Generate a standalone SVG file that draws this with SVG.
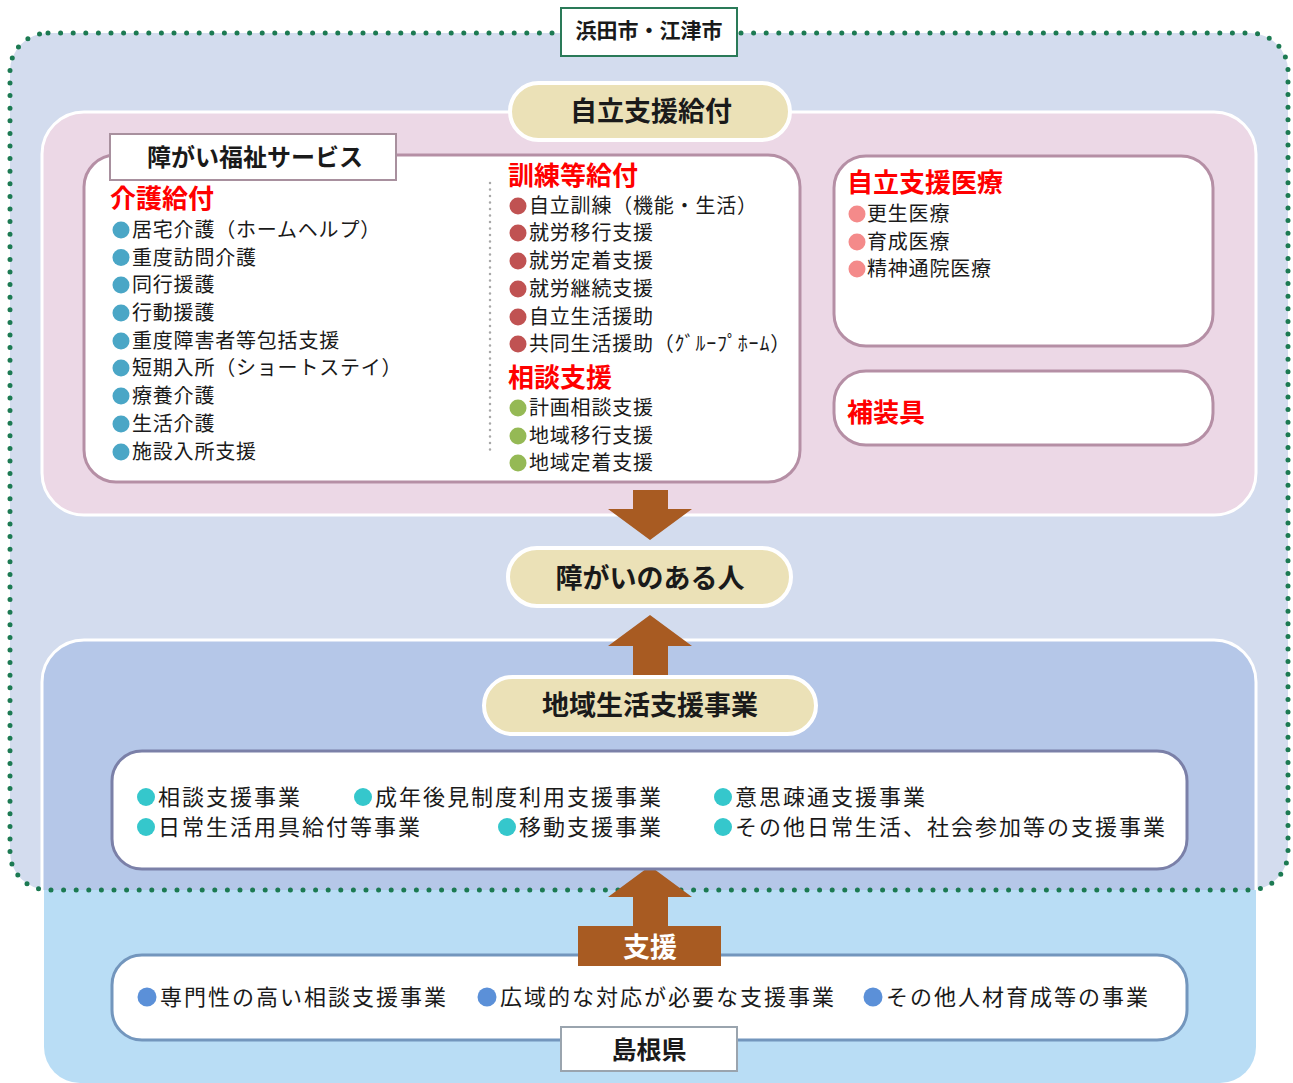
<svg xmlns="http://www.w3.org/2000/svg" width="1293" height="1083" viewBox="0 0 1293 1083">
<style>
text{font-family:"Noto Sans CJK JP","Noto Sans CJK SC",sans-serif;fill:#1a1a1a}
.h{font-weight:bold;font-size:27px;text-anchor:middle}
.red{font-weight:bold;font-size:26px;fill:#ff0000}
.it{font-size:20px;letter-spacing:0.8px}
.bt{font-size:22px;letter-spacing:2px}
.pill{fill:#ebe1b7;stroke:#ffffff;stroke-width:4}
.box{fill:#ffffff;stroke:#b58fa5;stroke-width:3}
.arrow{fill:#a85b22}
.b1{fill:#4aa6c6}.b2{fill:#c05252}.b3{fill:#95b955}.b4{fill:#f48a8a}.b5{fill:#35c7cc}.b6{fill:#5b90d8}
</style>
<rect width="1293" height="1083" fill="#ffffff"/>
<g id="regions">
<rect x="44" y="600" width="1212" height="483" rx="36" fill="#b9ddf5"/>
<path d="M48,33 H1250 A38,38 0 0 1 1288,71 V852 A38,38 0 0 1 1250,890 H48 A38,38 0 0 1 10,852 V71 A38,38 0 0 1 48,33 Z" fill="#d3dcee"/>
<path d="M42,890 V682 A42,42 0 0 1 84,640 H1214 A42,42 0 0 1 1256,682 V890" fill="#b5c7e8" stroke="#ffffff" stroke-width="3"/>
<rect x="42" y="112" width="1214" height="403" rx="42" fill="#ecd8e6" stroke="#ffffff" stroke-width="3"/>
<path d="M48,33 H1250 A38,38 0 0 1 1288,71 V852 A38,38 0 0 1 1250,890 H48 A38,38 0 0 1 10,852 V71 A38,38 0 0 1 48,33 Z" fill="none" stroke="#1c7a52" stroke-width="5" stroke-linecap="round" stroke-dasharray="0 12.6"/>
</g>
<g id="connectors">
<path class="arrow" d="M633,490 H668 V509 H692 L650,540 L608,509 H633 Z"/>
<path class="arrow" d="M650,615 L692,646 H668 V682 H633 V646 H608 Z"/>
<path class="arrow" d="M650,866 L692,897 H668 V930 H633 V897 H608 Z"/>
</g>
<g id="hamada">
<rect x="561" y="8" width="176" height="48" fill="#ffffff" stroke="#2a7a58" stroke-width="2"/>
<text x="649" y="37.5" style="font-weight:bold;font-size:21px;text-anchor:middle">浜田市・江津市</text>
</g>
<g id="jiritsu-kyufu">
<rect class="pill" x="510" y="83" width="280" height="57" rx="28.5"/>
<text class="h" x="651" y="121">自立支援給付</text>
</g>
<g id="fukushi-service">
<rect class="box" x="84" y="155" width="716" height="327" rx="32"/>
<rect x="110" y="134" width="286" height="46" fill="#ffffff" stroke="#a8909e" stroke-width="2"/>
<text x="255" y="166" style="font-weight:bold;font-size:24px;text-anchor:middle">障がい福祉サービス</text>
<line x1="490" y1="183" x2="490" y2="452" stroke="#a8a8a8" stroke-width="2.5" stroke-linecap="round" stroke-dasharray="0 6.5"/>
<text class="red" x="110" y="207.5">介護給付</text>
<circle class="b1" cx="121" cy="230" r="8.5"/><text class="it" x="132" y="237">居宅介護（ホームヘルプ）</text>
<circle class="b1" cx="121" cy="257.5" r="8.5"/><text class="it" x="132" y="264.5">重度訪問介護</text>
<circle class="b1" cx="121" cy="285" r="8.5"/><text class="it" x="132" y="292">同行援護</text>
<circle class="b1" cx="121" cy="313" r="8.5"/><text class="it" x="132" y="320">行動援護</text>
<circle class="b1" cx="121" cy="341" r="8.5"/><text class="it" x="132" y="348">重度障害者等包括支援</text>
<circle class="b1" cx="121" cy="368" r="8.5"/><text class="it" x="132" y="375">短期入所（ショートステイ）</text>
<circle class="b1" cx="121" cy="396" r="8.5"/><text class="it" x="132" y="403">療養介護</text>
<circle class="b1" cx="121" cy="424" r="8.5"/><text class="it" x="132" y="431">生活介護</text>
<circle class="b1" cx="121" cy="452" r="8.5"/><text class="it" x="132" y="459">施設入所支援</text>
<text class="red" x="508" y="184.5">訓練等給付</text>
<circle class="b2" cx="518" cy="206" r="8.5"/><text class="it" x="529" y="213">自立訓練（機能・生活）</text>
<circle class="b2" cx="518" cy="233" r="8.5"/><text class="it" x="529" y="240">就労移行支援</text>
<circle class="b2" cx="518" cy="261" r="8.5"/><text class="it" x="529" y="268">就労定着支援</text>
<circle class="b2" cx="518" cy="289" r="8.5"/><text class="it" x="529" y="296">就労継続支援</text>
<circle class="b2" cx="518" cy="317" r="8.5"/><text class="it" x="529" y="324">自立生活援助</text>
<circle class="b2" cx="518" cy="344" r="8.5"/><text class="it" x="529" y="351">共同生活援助（ｸﾞﾙｰﾌﾟﾎｰﾑ）</text>
<text class="red" x="508" y="386.5">相談支援</text>
<circle class="b3" cx="518" cy="408" r="8.5"/><text class="it" x="529" y="415">計画相談支援</text>
<circle class="b3" cx="518" cy="436" r="8.5"/><text class="it" x="529" y="443">地域移行支援</text>
<circle class="b3" cx="518" cy="463" r="8.5"/><text class="it" x="529" y="470">地域定着支援</text>
</g>
<g id="jiritsu-iryo">
<rect class="box" x="834" y="156" width="379" height="190" rx="32"/>
<text class="red" x="847" y="191.5">自立支援医療</text>
<circle class="b4" cx="857" cy="214" r="8.5"/><text class="it" x="867" y="221">更生医療</text>
<circle class="b4" cx="857" cy="242" r="8.5"/><text class="it" x="867" y="249">育成医療</text>
<circle class="b4" cx="857" cy="269" r="8.5"/><text class="it" x="867" y="276">精神通院医療</text>
</g>
<g id="hosogu">
<rect class="box" x="834" y="371" width="379" height="74" rx="32"/>
<text class="red" x="847" y="421.5">補装具</text>
</g>
<g id="person">
<rect class="pill" x="508" y="548" width="283" height="58" rx="29"/>
<text class="h" x="650" y="587.5">障がいのある人</text>
</g>
<g id="chiiki">
<rect class="pill" x="484" y="677" width="332" height="57" rx="28.5"/>
<text class="h" x="650" y="715">地域生活支援事業</text>
</g>
<g id="chiiki-list">
<rect x="112" y="751" width="1075" height="118" rx="30" fill="#ffffff" stroke="#7b80a8" stroke-width="3"/>
<circle class="b5" cx="146" cy="797" r="9"/><text class="bt" x="158" y="805">相談支援事業</text>
<circle class="b5" cx="363" cy="797" r="9"/><text class="bt" x="375" y="805">成年後見制度利用支援事業</text>
<circle class="b5" cx="723" cy="797" r="9"/><text class="bt" x="735" y="805">意思疎通支援事業</text>
<circle class="b5" cx="146" cy="827" r="9"/><text class="bt" x="158" y="835">日常生活用具給付等事業</text>
<circle class="b5" cx="507" cy="827" r="9"/><text class="bt" x="519" y="835">移動支援事業</text>
<circle class="b5" cx="723" cy="827" r="9"/><text class="bt" x="735" y="835">その他日常生活、社会参加等の支援事業</text>
</g>
<g id="ken-list">
<rect x="112" y="955" width="1075" height="85" rx="30" fill="#ffffff" stroke="#7396bd" stroke-width="3"/>
<circle class="b6" cx="147" cy="997" r="9.5"/><text class="bt" x="160" y="1005">専門性の高い相談支援事業</text>
<circle class="b6" cx="487" cy="997" r="9.5"/><text class="bt" x="500" y="1005">広域的な対応が必要な支援事業</text>
<circle class="b6" cx="873" cy="997" r="9.5"/><text class="bt" x="886" y="1005">その他人材育成等の事業</text>
</g>
<g id="shien">
<rect class="arrow" x="578" y="926" width="143" height="40"/>
<text x="650" y="956.5" style="font-weight:bold;font-size:27px;text-anchor:middle;fill:#ffffff">支援</text>
</g>
<g id="shimane">
<rect x="561" y="1027" width="176" height="44" fill="#ffffff" stroke="#9aa4ae" stroke-width="2"/>
<text x="649" y="1059" style="font-weight:bold;font-size:25px;text-anchor:middle">島根県</text>
</g>
</svg>
